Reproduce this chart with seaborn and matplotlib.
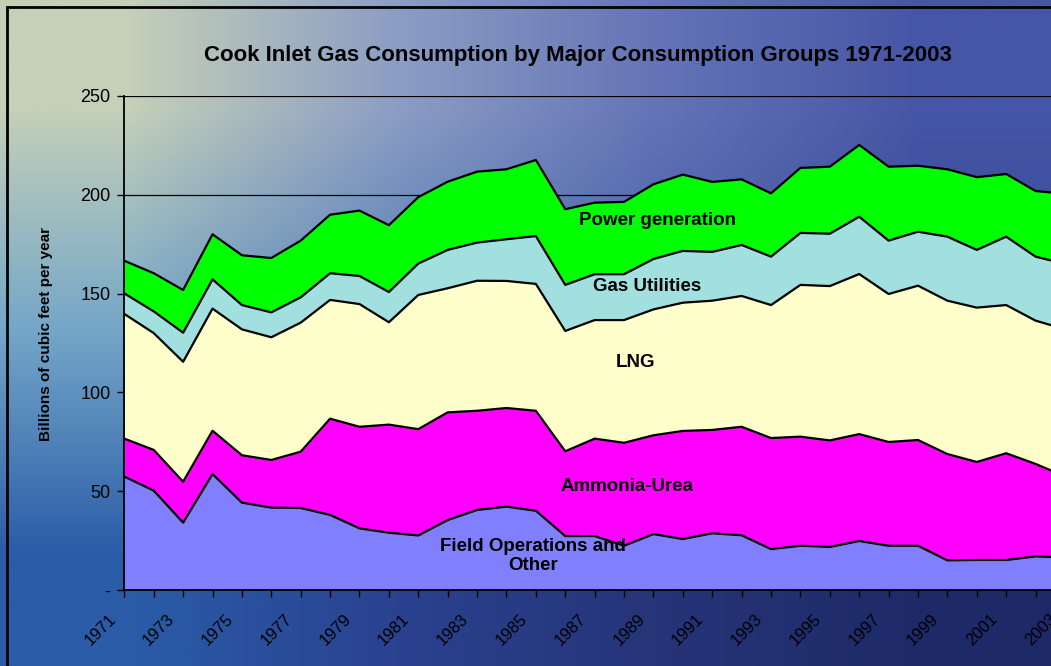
import numpy as np
import matplotlib
matplotlib.use('Agg')
import matplotlib.pyplot as plt
import matplotlib.transforms as mtransforms
from matplotlib.patches import Rectangle
import seaborn as sns

# Dados (bilhões de pés cúbicos por ano)
years = list(range(1971, 2004))
field_ops = [57.4, 50.3, 34.1, 58.7, 44.2, 41.7, 41.5, 38.0, 31.2, 29.0, 27.6, 35.4, 40.5, 42.2, 40.1, 27.3, 27.3,
             22.4, 28.3, 25.8, 28.7, 27.7, 20.7, 22.4, 21.8, 24.8, 22.4, 22.4, 15.0, 15.2, 15.2, 17.0, 16.5]
ammonia = [19.2, 20.6, 20.7, 21.9, 24.0, 24.1, 28.5, 48.7, 51.4, 54.7, 53.8, 54.5, 50.2, 49.9, 50.6, 42.9, 49.3,
           52.1, 50.0, 54.7, 52.3, 54.9, 56.2, 55.2, 53.9, 54.1, 52.5, 53.5, 53.8, 49.6, 54.0, 46.8, 41.0]
lng = [63.1, 59.1, 60.7, 61.8, 63.7, 62.1, 65.3, 60.1, 62.1, 51.8, 67.9, 62.8, 65.8, 64.3, 64.2, 60.9, 60.0,
       62.1, 63.7, 64.9, 65.4, 66.2, 67.3, 76.8, 78.1, 81.0, 74.9, 78.1, 77.6, 78.1, 75.0, 72.5, 74.5]
gas_util = [10.4, 11.0, 14.7, 14.8, 12.3, 12.6, 12.8, 13.5, 14.2, 15.3, 15.9, 19.4, 19.3, 21.1, 24.2, 23.3, 23.2,
            23.2, 25.5, 26.2, 24.7, 25.8, 24.5, 26.3, 26.5, 29.0, 27.0, 27.3, 32.4, 29.2, 34.6, 32.4, 33.0]
power = [16.5, 19.3, 21.6, 22.8, 25.2, 27.5, 28.7, 29.6, 33.1, 33.8, 33.6, 34.5, 35.9, 35.4, 38.5, 38.3, 36.2,
         36.6, 37.8, 38.6, 35.4, 33.2, 32.0, 32.9, 33.9, 36.3, 37.4, 33.4, 34.1, 36.8, 31.7, 33.2, 35.5]

series_colors = ['#8080FF', '#FF00FF', '#FFFFCC', '#A2E0E0', '#00FF00']
y_ticks = [0, 50, 100, 150, 200, 250]
y_labels = ['-', '50', '100', '150', '200', '250']

sns.set_style('ticks')
plt.rcParams['font.family'] = ['Liberation Sans', 'DejaVu Sans']
plt.rcParams['text.color'] = 'black'

fig = plt.figure(figsize=(10.51, 6.66), dpi=100)

# Fundo em degradê imitando a foto do mar
bg_colors = np.array([
    [[196, 208, 184], [140, 158, 196], [100, 116, 182], [70, 86, 166]],
    [[116, 166, 200], [84, 124, 182], [70, 94, 166], [56, 72, 150]],
    [[42, 92, 168], [42, 66, 144], [38, 52, 120], [30, 42, 104]],
]) / 255.0
bg = fig.add_axes([0, 0, 1, 1], zorder=0)
bg.imshow(bg_colors, extent=[0, 1, 0, 1], aspect='auto', interpolation='bilinear')
bg.axis('off')

# Moldura
fig.add_artist(Rectangle((7 / 1051, -0.1), 1.2, 1 - 7 / 666 + 0.1, transform=fig.transFigure,
                         fill=False, ec='black', lw=2, zorder=5))

ax = fig.add_axes([0.1183, 0.1141, 0.895, 0.7418], zorder=1)
ax.set_facecolor('none')
ax.stackplot(years, field_ops, ammonia, lng, gas_util, power, colors=series_colors, linewidth=0, zorder=2)

cum = np.cumsum([field_ops, ammonia, lng, gas_util, power], axis=0)
for row in cum:
    sns.lineplot(x=years, y=row, color='black', lw=1.6, ax=ax, zorder=3)

ax.set_xlim(1971, 2003)
ax.set_ylim(0, 250)
ax.set_yticks(y_ticks)
ax.set_yticklabels(y_labels)
ax.set_xticks(years)
ax.set_xticklabels([str(y) if (y - 1971) % 2 == 0 else '' for y in years])
ax.grid(axis='y', color='black', lw=0.9)
ax.grid(axis='x', visible=False)
ax.set_axisbelow(True)
for s in ['top', 'right']:
    ax.spines[s].set_visible(False)
for s in ['left', 'bottom']:
    ax.spines[s].set_color('black')
    ax.spines[s].set_linewidth(1.3)
    ax.spines[s].set_zorder(4)
ax.tick_params(axis='both', direction='out', length=5, width=1, color='black', labelcolor='black')
ax.tick_params(axis='y', pad=5, labelsize=13)
ax.tick_params(axis='x', pad=14, labelsize=12)

offset = mtransforms.ScaledTranslation(-11 / 100, 0, fig.dpi_scale_trans)
for lbl in ax.get_xticklabels():
    lbl.set_rotation(45)
    lbl.set_ha('right')
    lbl.set_va('center')
    lbl.set_rotation_mode('anchor')
    lbl.set_transform(lbl.get_transform() + offset)

# Rótulos das áreas
lbl_kw = dict(ha='center', va='center', fontsize=13.5, fontweight='bold', color='black', zorder=5)
ax.text(1989.15, 187.2, 'Power generation', **lbl_kw)
ax.text(1988.8, 153.8, 'Gas Utilities', **lbl_kw)
ax.text(1988.4, 114.9, 'LNG', **lbl_kw)
ax.text(1988.1, 52.6, 'Ammonia-Urea', **lbl_kw)
ax.text(1984.9, 17.2, 'Field Operations and\nOther', linespacing=1.15, **lbl_kw)

fig.text(0.55, 0.917, 'Cook Inlet Gas Consumption by Major Consumption Groups 1971-2003',
         ha='center', va='center', fontsize=16, fontweight='bold', color='black')
fig.text(0.0438, 0.498, 'Billions of cubic feet per year', ha='center', va='center', rotation=90,
         fontsize=11, fontweight='bold', color='black')

fig.savefig('out.png', dpi=100)
